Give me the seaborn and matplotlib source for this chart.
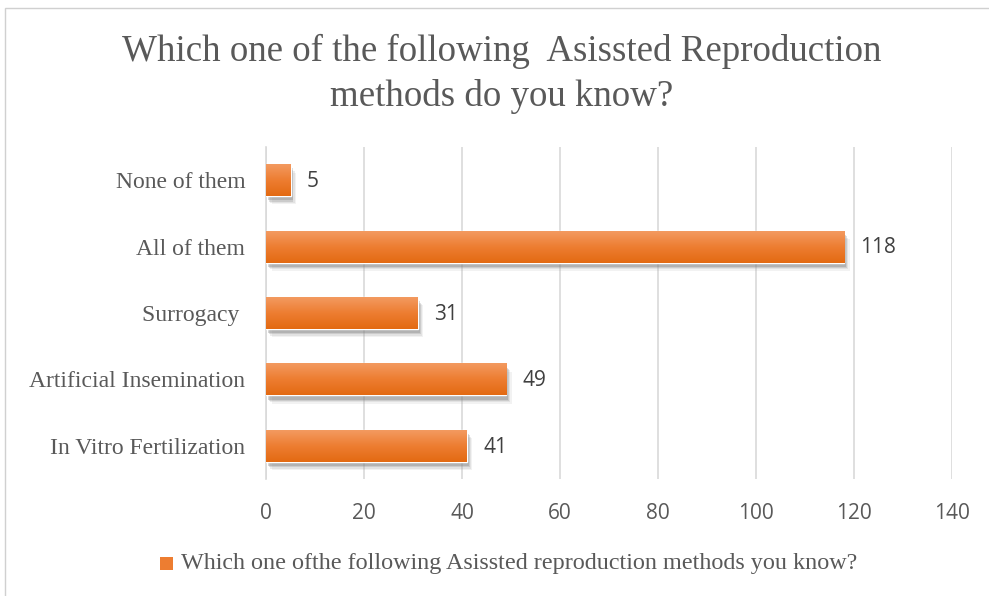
import numpy as np
import pandas as pd
import matplotlib
matplotlib.use("Agg")
import matplotlib.pyplot as plt
import matplotlib.patheffects as pe
from matplotlib.colors import LinearSegmentedColormap
from matplotlib.patches import Rectangle
import seaborn as sns

categories = ["None of them", "All of them", "Surrogacy ", "Artificial Insemination", "In Vitro Fertilization"]
values = [5, 118, 31, 49, 41]
xticks = [0, 20, 40, 60, 80, 100, 120, 140]
title = "Which one of the following  Asissted Reproduction\nmethods do you know?"
legend_label = "Which one ofthe following Asissted reproduction methods you know?"

df = pd.DataFrame({"method": categories, "count": values})

sns.set_theme(style="white")
plt.rcParams["font.family"] = ["Liberation Serif", "DejaVu Serif"]

fig = plt.figure(figsize=(9.89, 5.96), dpi=100)
ax = fig.add_axes([266/989, 1-479/596, (952-266)/989, (479-147)/596])

sns.barplot(data=df, x="count", y="method", order=categories, orient="h",
            color="#ED7D31", width=0.48, ax=ax, zorder=3)

# gradient fill + soft shadow on each bar
cmap = LinearSegmentedColormap.from_list("og", ["#F39A60", "#ED7D31", "#E36A12"])
grad = np.linspace(0, 1, 64).reshape(-1, 1)
for p in ax.patches:
    x0, y0 = p.get_x(), p.get_y()
    w, h = p.get_width(), p.get_height()
    p.set_path_effects([
        pe.SimplePatchShadow(offset=(4, -6), shadow_rgbFace="#9a9a9a", alpha=0.12),
        pe.SimplePatchShadow(offset=(3, -5), shadow_rgbFace="#9a9a9a", alpha=0.18),
        pe.SimplePatchShadow(offset=(2, -4), shadow_rgbFace="#8a8a8a", alpha=0.25),
        pe.SimplePatchShadow(offset=(1.5, -3), shadow_rgbFace="#7a7a7a", alpha=0.3),
        pe.Normal()])
    im = ax.imshow(grad, cmap=cmap, aspect="auto", extent=[x0, x0 + w, y0 + h, y0],
                   zorder=4, interpolation="bicubic")
    im.set_clip_path(p)
ax.set_ylim(4.5, -0.5)
ax.set_xlim(0, 140)

for i, v in enumerate(values):
    ax.text(v + 3.3, i + 0.02, str(v), va="center", ha="left", fontsize=15,
            family=["Open Sans", "DejaVu Sans"], color="#404040", zorder=5)

ax.set_xticks(xticks)
ax.set_xticklabels([str(t) for t in xticks], family=["Open Sans", "DejaVu Sans"], fontsize=15, color="#595959")
ax.tick_params(axis="x", length=0, pad=17.5)
ax.tick_params(axis="y", length=0, pad=15, labelsize=17, labelcolor="#595959")
ax.set_xlabel("")
ax.set_ylabel("")
ax.grid(axis="x", color="#d9d9d9", linewidth=1.2, zorder=0)
ax.set_axisbelow(True)
for s in ["top", "right", "bottom"]:
    ax.spines[s].set_visible(False)
ax.spines["left"].set_color("#d9d9d9")
ax.spines["left"].set_linewidth(1.2)

fig.text(0.507, 1-74/596, title, ha="center", va="center", fontsize=26.6, color="#595959",
         linespacing=1.38)

# legend
fig.patches.append(Rectangle((160/989, 1-570/596), 13/989, 13/596, transform=fig.transFigure,
                             facecolor="#ED7D31", edgecolor="none"))
fig.text(181/989, 1-564/596, legend_label, ha="left", va="center", fontsize=17.35, color="#595959")

# chart border
fig.patches.append(Rectangle((5/989, -0.05), 1.2, 1.05-7.5/596, transform=fig.transFigure,
                             facecolor="none", edgecolor="#d0d0d0", linewidth=1))

fig.savefig("out.png", dpi=100)
